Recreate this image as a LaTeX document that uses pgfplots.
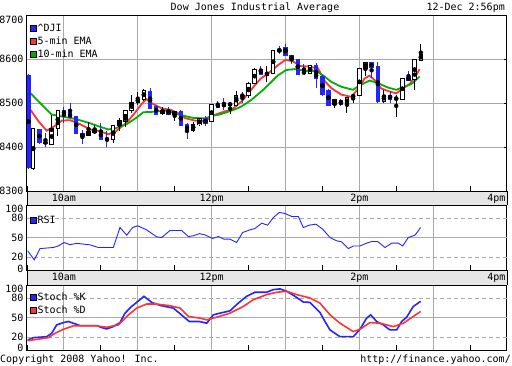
\documentclass[border=0pt]{standalone}
\usepackage{fontspec}
\setmainfont{DejaVu Sans Mono}
\usepackage{pgfplots}
\pgfplotsset{compat=1.18}
\usepackage{pgfplotstable}

\definecolor{cblue}{RGB}{36,36,255}
\definecolor{ered}{RGB}{255,51,51}
\definecolor{egreen}{RGB}{0,175,0}
\definecolor{gridgray}{RGB}{170,170,170}
\definecolor{bargray}{RGB}{230,230,230}

% up candles: t open high low close
\pgfplotstableread{
t o h l c
9.5833 8351 8443 8348 8442
9.8333 8406 8473 8405 8442
9.9167 8442 8484 8425 8483
10.3333 8427 8456 8425 8436
10.4167 8432 8451 8429 8439
10.6667 8416 8451 8410 8449
10.7500 8448 8465 8436 8460
10.8333 8458 8484 8445 8482
10.9167 8482 8518 8477 8502
11.0000 8502 8525 8495 8509
11.0833 8509 8532 8505 8529
11.3333 8477 8490 8473 8484
11.5000 8473 8483 8459 8481
11.7500 8437 8457 8433 8452
11.8333 8450 8466 8447 8465
12.0000 8459 8498 8458 8497
12.2500 8496 8500 8474 8498
12.3333 8495 8527 8494 8518
12.5000 8518 8548 8511 8545
12.5833 8545 8580 8543 8577
12.7500 8565 8585 8548 8567
12.8333 8568 8621 8566 8620
13.3333 8567 8587 8566 8586
13.6667 8497 8508 8488 8507
13.8333 8497 8514 8478 8513
13.9167 8513 8521 8500 8518
14.0000 8517 8580 8516 8579
14.0833 8579 8593 8562 8592
14.3333 8504 8530 8500 8518
14.5000 8509 8518 8469 8511
14.5833 8509 8557 8508 8556
14.7500 8553 8600 8529 8599
14.8333 8597 8634 8595 8611
}\upc

% down candles
\pgfplotstableread{
t o h l c
9.5200 8564 8565 8350 8352
9.6667 8441 8442 8407 8410
9.7500 8412 8432 8399 8408
10.0000 8484 8492 8454 8473
10.0833 8478 8499 8466 8467
10.1667 8470 8471 8430 8431
10.2500 8432 8438 8408 8423
10.5000 8437 8455 8416 8417
10.5833 8418 8436 8400 8415
11.1667 8526 8534 8486 8487
11.2500 8492 8495 8473 8474
11.4167 8483 8490 8473 8474
11.5833 8482 8484 8447 8448
11.6667 8452 8455 8418 8435
11.9167 8465 8470 8448 8452
12.0833 8498 8505 8488 8490
12.1667 8496 8512 8484 8494
12.4167 8518 8524 8499 8516
12.6667 8577 8584 8564 8565
12.9167 8620 8630 8611 8618
13.0000 8627 8633 8607 8608
13.0833 8609 8610 8588 8598
13.1667 8600 8601 8564 8565
13.2500 8570 8588 8565 8568
13.4167 8586 8592 8533 8555
13.5000 8560 8563 8517 8518
13.5833 8530 8531 8494 8495
13.7500 8507 8509 8493 8496
14.1667 8592 8593 8556 8580
14.2500 8584 8594 8500 8502
14.4167 8518 8528 8500 8508
14.6667 8559 8572 8550 8551
}\downc

\pgfplotstableread{
t v
9.550 8484
9.649 8460
9.767 8437
9.879 8448
9.974 8460
10.082 8461
10.218 8452
10.353 8440
10.488 8436
10.601 8429
10.692 8434
10.773 8445
10.850 8456
10.908 8467
10.985 8483
11.044 8496
11.115 8509
11.183 8500
11.319 8488
11.454 8484
11.545 8477
11.635 8466
11.771 8460
11.906 8459
12.042 8473
12.177 8481
12.266 8484
12.402 8503
12.479 8518
12.583 8540
12.669 8556
12.763 8567
12.899 8586
12.998 8598
13.102 8595
13.193 8584
13.305 8583
13.440 8579
13.531 8550
13.620 8534
13.756 8519
13.891 8514
13.982 8532
14.073 8556
14.140 8562
14.208 8552
14.298 8533
14.411 8526
14.501 8522
14.591 8533
14.682 8543
14.758 8560
14.817 8577
}\emafive

\pgfplotstableread{
t v
9.550 8522
9.676 8500
9.834 8474
9.947 8470
10.082 8466
10.173 8463
10.353 8454
10.488 8446
10.601 8440
10.692 8442
10.850 8452
10.985 8467
11.075 8479
11.210 8480
11.392 8483
11.545 8474
11.752 8466
11.906 8465
12.042 8472
12.113 8474
12.293 8484
12.402 8492
12.475 8500
12.537 8507
12.587 8514
12.719 8533
12.899 8563
13.011 8575
13.125 8577
13.260 8573
13.417 8573
13.531 8560
13.620 8548
13.756 8537
13.914 8530
14.005 8540
14.140 8551
14.253 8545
14.389 8535
14.501 8530
14.591 8536
14.704 8543
14.817 8560
}\ematen

\pgfplotstableread{
t v
9.509 29.5
9.599 15.6
9.676 33
9.857 34.6
9.924 37
10.001 42.3
10.082 39
10.173 41
10.353 38.7
10.466 34.6
10.669 34.6
10.759 65.4
10.850 53.6
10.931 65.4
10.999 68
11.120 61.8
11.256 51
11.324 50
11.436 60.8
11.594 60.8
11.685 51.5
11.752 52.6
11.834 56
11.910 54
12.014 48.5
12.091 51.5
12.168 47.4
12.249 47.4
12.339 42.3
12.420 57.7
12.520 61.8
12.587 63.8
12.678 72
12.759 69
12.836 80.8
12.917 88.5
12.994 87
13.084 82.3
13.174 82.3
13.242 65.4
13.323 69
13.413 70.5
13.504 62.8
13.603 50
13.693 44.9
13.761 43.3
13.851 33
13.919 37
14.009 37
14.099 41.3
14.167 43.8
14.248 43.8
14.348 34.6
14.438 41.3
14.528 41.3
14.587 37
14.664 50
14.754 53.6
14.831 65.4
}\rsi

\pgfplotstableread{
t v
9.509 15.3
9.586 19
9.766 20.5
9.834 25.7
9.902 38.6
9.992 42.2
10.060 43.8
10.127 41.2
10.218 37.6
10.443 37.6
10.511 34.5
10.579 32.4
10.669 36
10.759 42.2
10.827 56.7
10.917 67
10.985 73.3
11.084 82.6
11.188 73.3
11.301 68.6
11.482 64.5
11.617 51.6
11.698 43.8
11.834 43.8
11.933 41.2
12.023 54.1
12.113 56.7
12.249 60.3
12.362 72.2
12.474 82.6
12.587 88.8
12.745 88.8
12.836 92.9
12.926 94
13.016 90.4
13.129 82.6
13.242 73.8
13.332 73.3
13.467 57.8
13.535 43.8
13.603 30.9
13.738 20.5
13.919 20.5
14.009 31.9
14.099 49
14.154 54.1
14.235 43.8
14.325 38.6
14.415 30.9
14.506 30.9
14.573 43.8
14.641 50.5
14.731 67
14.831 74.8
}\stochk

\pgfplotstableread{
t v
9.509 14.3
9.789 19
9.879 25.7
9.992 31.9
10.127 37.1
10.443 37.1
10.579 35
10.737 38.6
10.850 51.6
10.985 64.5
11.120 70.7
11.256 70.7
11.436 68.1
11.572 64.5
11.685 51.6
11.843 49
11.933 46.4
12.068 50.5
12.249 56.7
12.429 67
12.565 77.4
12.745 85.2
12.881 88.8
13.016 90.4
13.152 85.2
13.332 80
13.467 72.2
13.603 54.1
13.738 41.2
13.919 28.3
14.009 31.9
14.145 42.2
14.280 41.2
14.461 36
14.596 41.2
14.731 51.6
14.831 59.3
}\stochd

\pgfplotsset{
  panel/.style={
    scale only axis, width=480pt, xmin=9.5, xmax=16,
    axis line style={line width=1pt},
    grid style={gridgray, line width=1pt},
    xtick={10,11,...,15}, minor xtick={9.5,10.5,...,15.5},
    xmajorgrids, xtick pos=bottom, ytick pos=right, yticklabel pos=left,
    tick align=inside, major tick length=3pt, minor tick length=5pt,
    tick style={black, line width=0.8pt},
    major x tick style={draw=none},
    tick label style={font=\fontsize{10}{12}\selectfont},
    legend cell align=left,
    legend image code/.code={\draw[#1,draw=black,line width=0.8pt] (0pt,-3pt) rectangle (6pt,3pt);},
  },
  lgd/.style={legend style={at={(0,1)}, anchor=north west, draw=none, fill=none,
      inner xsep=2.5pt, inner ysep=#1, row sep=0pt,
      nodes={inner sep=1pt, text height=8pt, text depth=3pt},
      font=\fontsize{10}{12}\selectfont}},
  timelabels/.style={
    xticklabels={10am,,12pm,,2pm,},
    extra x ticks={16}, extra x tick labels={4pm},
    extra x tick style={grid=none, xticklabel style={anchor=north east, xshift=2pt}},
  },
  upwick/.style={forget plot, only marks, mark=none,
    error bars/.cd, y dir=both, y explicit, error mark=none,
    error bar style={draw=black, line width=1pt}},
  downwick/.style={forget plot, only marks, mark=none,
    error bars/.cd, y dir=both, y explicit, error mark=none,
    error bar style={draw=cblue, line width=1pt}},
  body/.style 2 args={forget plot, only marks, mark=none,
    error bars/.cd, y dir=both, y explicit, error mark=none,
    error bar style={draw=#1, line width=#2}},
}

\begin{document}
\begin{tikzpicture}
\path[use as bounding box] (0pt,0pt) rectangle (512pt,365pt);
\fill[bargray] (27pt,160pt) rectangle (507pt,174pt);
\draw[line width=1pt] (27pt,160pt) -- (27pt,174pt) (507pt,160pt) -- (507pt,174pt);
\fill[bargray] (27pt,80pt) rectangle (507pt,95pt);
\draw[line width=1pt] (27pt,80pt) -- (27pt,95pt) (507pt,80pt) -- (507pt,95pt);

\node[anchor=base, inner sep=0] at (255pt,354.5pt) {Dow Jones Industrial Average};
\node[anchor=base east, inner sep=0] at (505pt,354.5pt) {12-Dec 2:56pm};
\node[anchor=base west, inner sep=0] at (0pt,3pt) {Copyright 2008 Yahoo! Inc.};
\node[anchor=base east, inner sep=0] at (511pt,3pt) {http://finance.yahoo.com/};

% ---------- price panel ----------
\begin{axis}[panel, lgd=7pt, timelabels,
  at={(27pt,174pt)}, anchor=south west, height=176pt,
  ymin=8300, ymax=8700, ytick={8300,8400,...,8700},
  yticklabels={8300,8400,8500,8600,\smash{\raisebox{-8.6pt}{8700}}},
  ymajorgrids]
\addlegendimage{fill=cblue}\addlegendentry{\textasciicircum DJI}
\addlegendimage{fill=ered}\addlegendentry{5-min EMA}
\addlegendimage{fill=egreen}\addlegendentry{10-min EMA}

\addplot[ered, line width=1.8pt, forget plot] table[x=t,y=v] {\emafive};
\addplot[egreen, line width=1.8pt, forget plot] table[x=t,y=v] {\ematen};

\addplot[upwick] table[x=t, y expr={(\thisrow{h}+\thisrow{l})/2}, y error expr={(\thisrow{h}-\thisrow{l})/2}] {\upc};
\addplot[downwick] table[x=t, y expr={(\thisrow{h}+\thisrow{l})/2}, y error expr={(\thisrow{h}-\thisrow{l})/2}] {\downc};
\addplot[body={black}{4.4pt}] table[x=t, y expr={(\thisrow{o}+\thisrow{c})/2}, y error expr={abs(\thisrow{c}-\thisrow{o})/2+1.1}] {\upc};
\addplot[body={white}{2.4pt}] table[x=t, y expr={(\thisrow{o}+\thisrow{c})/2}, y error expr={max(abs(\thisrow{c}-\thisrow{o})/2-1.1,0)}] {\upc};
\addplot[body={cblue}{4.4pt}] table[x=t, y expr={(\thisrow{o}+\thisrow{c})/2}, y error expr={abs(\thisrow{c}-\thisrow{o})/2+0.6}] {\downc};
\end{axis}

% ---------- RSI panel ----------
\begin{axis}[panel, lgd=9pt, timelabels,
  at={(27pt,95pt)}, anchor=south west, height=65pt,
  ymin=0, ymax=100, ytick={0,20,50,80,100},
  yticklabels={\smash{\raisebox{-2pt}{0}},20,50,80,\smash{\raisebox{-7pt}{100}}}]
\addlegendimage{fill=cblue}\addlegendentry{RSI}
\addplot[gridgray, line width=1pt, dash pattern=on 4pt off 3pt, forget plot] coordinates {(9.5,20) (16,20)};
\addplot[gridgray, line width=1pt, dash pattern=on 4pt off 3pt, forget plot] coordinates {(9.5,80) (16,80)};
\addplot[gridgray, line width=1pt, forget plot] coordinates {(9.5,50) (16,50)};
\addplot[cblue, line width=0.9pt, forget plot] table[x=t,y=v] {\rsi};
\end{axis}

% ---------- Stochastic panel ----------
\begin{axis}[panel, lgd=6pt,
  at={(27pt,15pt)}, anchor=south west, height=65pt,
  xticklabels={},
  ymin=0, ymax=100, ytick={0,20,50,80,100},
  yticklabels={\smash{\raisebox{-1.6pt}{0}},20,50,80,\smash{\raisebox{-7pt}{100}}}]
\addlegendimage{fill=cblue}\addlegendentry{Stoch \%K}
\addlegendimage{fill=ered}\addlegendentry{Stoch \%D}
\addplot[gridgray, line width=1pt, dash pattern=on 4pt off 3pt, forget plot] coordinates {(9.5,20) (16,20)};
\addplot[gridgray, line width=1pt, dash pattern=on 4pt off 3pt, forget plot] coordinates {(9.5,80) (16,80)};
\addplot[gridgray, line width=1pt, forget plot] coordinates {(9.5,50) (16,50)};
\addplot[cblue, line width=1.6pt, forget plot] table[x=t,y=v] {\stochk};
\addplot[ered, line width=1.6pt, forget plot] table[x=t,y=v] {\stochd};
\end{axis}
\end{tikzpicture}
\end{document}
